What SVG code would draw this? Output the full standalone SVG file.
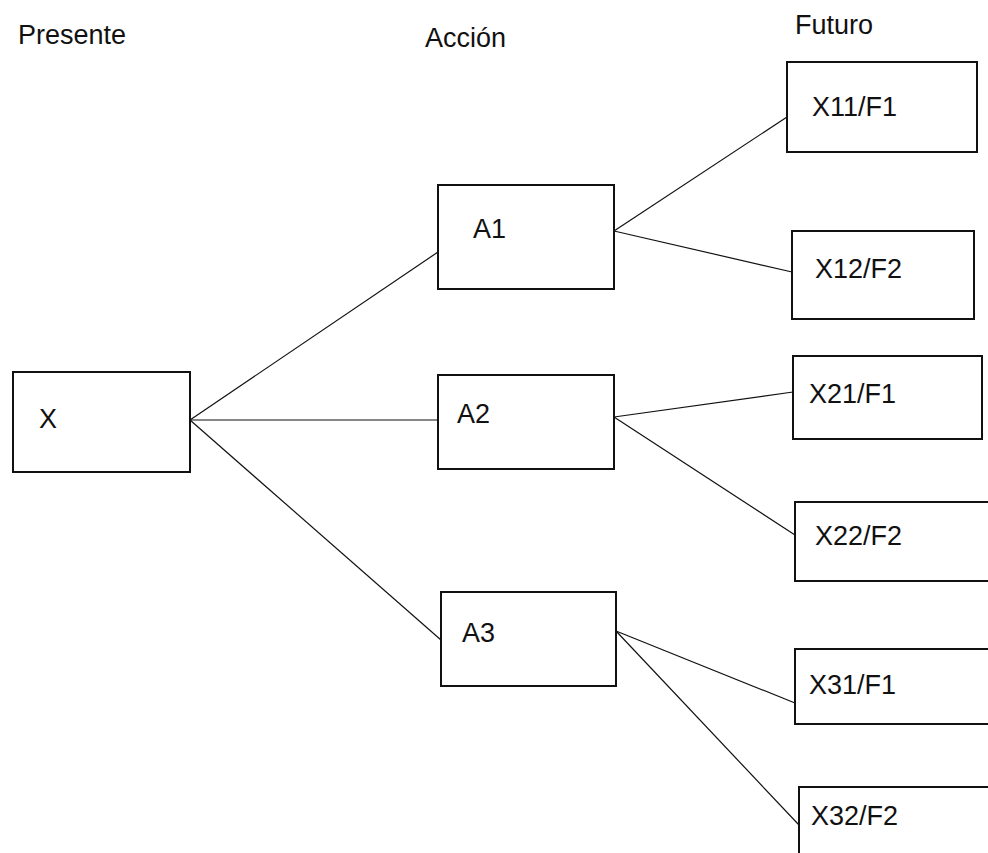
<svg xmlns="http://www.w3.org/2000/svg" width="988" height="853" viewBox="0 0 988 853">
<style>
.box{fill:#fff;stroke:#111;stroke-width:2}
.t{font-family:"Liberation Sans",Arial,sans-serif;font-size:27px;fill:#111}
.c{stroke:#111;stroke-width:1.2;fill:none}
</style>
<rect width="988" height="853" fill="#fff"/>
<g id="headers">
<text class="t" x="18" y="44">Presente</text>
<text class="t" x="425" y="47">Acción</text>
<text class="t" x="795" y="34">Futuro</text>
</g>
<g id="connectors">
<line class="c" x1="190" y1="420" x2="438" y2="252"/>
<line class="c" x1="190" y1="420" x2="438" y2="420"/>
<line class="c" x1="190" y1="420" x2="441" y2="640"/>
<line class="c" x1="614" y1="231" x2="787" y2="117"/>
<line class="c" x1="614" y1="231" x2="792" y2="272"/>
<line class="c" x1="614" y1="417" x2="793" y2="392"/>
<line class="c" x1="614" y1="417" x2="795" y2="535"/>
<line class="c" x1="616" y1="631" x2="795" y2="703"/>
<line class="c" x1="616" y1="631" x2="799" y2="825"/>
</g>
<g id="X"><rect class="box" x="13" y="372" width="177" height="100"/><text class="t" x="39" y="428">X</text></g>
<g id="A1"><rect class="box" x="438" y="185" width="176" height="104"/><text class="t" x="473" y="238">A1</text></g>
<g id="A2"><rect class="box" x="438" y="375" width="176" height="94"/><text class="t" x="457" y="423">A2</text></g>
<g id="A3"><rect class="box" x="441" y="592" width="175" height="94"/><text class="t" x="462" y="642">A3</text></g>
<g id="X11F1"><rect class="box" x="787" y="62" width="190" height="90"/><text class="t" x="812" y="116">X11/F1</text></g>
<g id="X12F2"><rect class="box" x="792" y="231" width="182" height="88"/><text class="t" x="815" y="278">X12/F2</text></g>
<g id="X21F1"><rect class="box" x="793" y="356" width="189" height="83"/><text class="t" x="809" y="403">X21/F1</text></g>
<g id="X22F2"><rect class="box" x="795" y="502" width="200" height="79"/><text class="t" x="815" y="545">X22/F2</text></g>
<g id="X31F1"><rect class="box" x="795" y="649" width="200" height="75"/><text class="t" x="809" y="694">X31/F1</text></g>
<g id="X32F2"><rect class="box" x="799" y="787" width="200" height="80"/><text class="t" x="811" y="825">X32/F2</text></g>
</svg>
